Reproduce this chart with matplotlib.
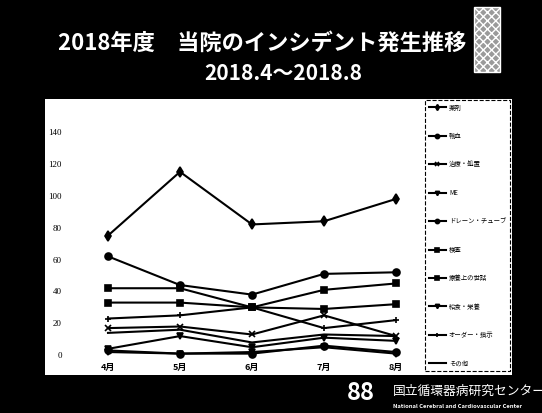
import matplotlib
matplotlib.use("Agg")
import matplotlib.pyplot as plt
import matplotlib.patches as patches

plt.rcParams['font.family'] = ['Noto Sans CJK JP', 'DejaVu Sans']

# ---- data ----
months = ['4月', '5月', '6月', '7月', '8月']
yakuzai = [75, 115, 82, 84, 98]        # 薬剤
yuketsu = [3, 1, 1, 6, 2]              # 輸血
chiryo = [17, 18, 13, 25, 12]          # 治療・処置
me = [4, 12, 5, 11, 9]                 # ME
drain = [62, 44, 38, 51, 52]           # ドレーン・チューブ
kensa = [42, 42, 30, 41, 45]           # 検査
ryoyo = [33, 33, 30, 29, 32]           # 療養上の世話
kyushoku = [2, 1, 2, 5, 1]             # 給食・栄養
order = [23, 25, 30, 17, 22]           # オーダー・指示
sonota = [14, 16, 8, 13, 12]           # その他

series = [
    ('薬剤', yakuzai, 'd'),
    ('輸血', yuketsu, 'o'),
    ('治療・処置', chiryo, 'x'),
    ('ME', me, 'v'),
    ('ドレーン・チューブ', drain, 'o'),
    ('検査', kensa, 's'),
    ('療養上の世話', ryoyo, 's'),
    ('給食・栄養', kyushoku, 'v'),
    ('オーダー・指示', order, '+'),
    ('その他', sonota, ''),
]
yticks = [0, 20, 40, 60, 80, 100, 120, 140]

W, H = 542, 413
fig = plt.figure(figsize=(W / 100, H / 100), dpi=100)
fig.patch.set_facecolor('black')

def fx(px):
    return px / W

def fy(py):
    return 1 - py / H

# white panel behind the chart
panel = patches.Rectangle((fx(45), fy(375)), fx(512) - fx(45), fy(99) - fy(375),
                          transform=fig.transFigure, facecolor='white',
                          edgecolor='none', zorder=-10)
fig.patches.append(panel)

# titles
fig.text(fx(262), fy(43), '2018年度　当院のインシデント発生推移', color='white',
         fontsize=16, fontweight='bold', ha='center', va='center')
fig.text(fx(283), fy(73), '2018.4～2018.8', color='white',
         fontsize=15, fontweight='bold', ha='center', va='center')

# stamp box next to the title
stamp = patches.Rectangle((fx(474), fy(72)), fx(500) - fx(474), fy(7) - fy(72),
                          transform=fig.transFigure, facecolor='#9a9a9a',
                          edgecolor='white', hatch='xxxx', linewidth=1.0)
fig.patches.append(stamp)

# chart axes
ax = fig.add_axes([fx(66), fy(360), fx(420) - fx(66), fy(116) - fy(360)])
ax.set_facecolor('none')
x = list(range(len(months)))
for name, vals, mk in series:
    ax.plot(x, vals, color='black', lw=1.5, marker=mk if mk else None,
            markersize=5, markeredgewidth=1.2, label=name)

ax.set_xlim(-0.583, 4.333)
ax.set_ylim(-3, 150)
ax.set_xticks(x)
ax.set_xticklabels(months, fontsize=6.5, fontweight='bold')
ax.set_yticks(yticks)
ax.set_yticklabels([str(v) for v in yticks], fontsize=6.5,
                   family='Liberation Serif')
ax.tick_params(length=0, pad=2)
ax.tick_params(axis='y', pad=3)
for s in ax.spines.values():
    s.set_visible(False)

leg = ax.legend(loc='upper left', bbox_to_anchor=(fx(425), fy(100)),
                bbox_transform=fig.transFigure, borderaxespad=0,
                fontsize=4.6, labelspacing=3.2, handlelength=2.8,
                handletextpad=0.4, borderpad=0.55, frameon=True,
                fancybox=False, framealpha=1, markerscale=0.6)
frame = leg.get_frame()
frame.set_edgecolor('black')
frame.set_linestyle('--')
frame.set_linewidth(0.8)

# logo / organisation name
fig.text(fx(361), fy(393), '88', color='white', fontsize=17,
         fontweight='bold', ha='center', va='center')
fig.text(fx(393), fy(391), '国立循環器病研究センター', color='white',
         fontsize=9.2, ha='left', va='center')
fig.text(fx(393), fy(406), 'National Cerebral and Cardiovascular Center',
         color='white', fontsize=4.2, fontweight='bold', ha='left', va='center')

fig.savefig('out.png', dpi=100, facecolor='black')
